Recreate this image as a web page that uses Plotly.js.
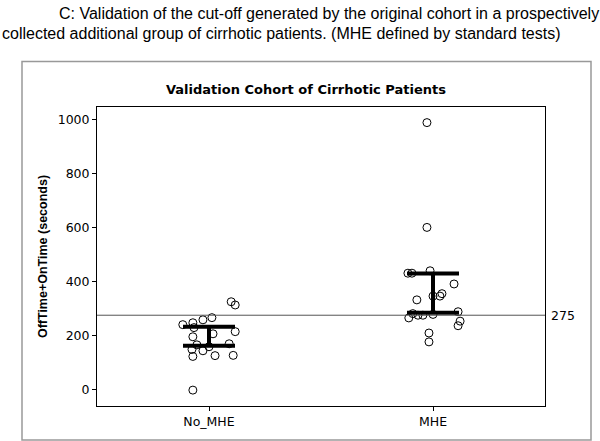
<!DOCTYPE html>
<html>
<head>
<meta charset="utf-8">
<script src="https://cdn.plot.ly/plotly-3.0.1.min.js"></script>
<style>html,body{margin:0;padding:0;background:#fff;}#chart{width:600px;height:441px;}</style>
</head>
<body>
<div id="chart"></div>
<script>
// Categories and tick labels
const categories = ["No_MHE", "MHE"];
const categoryPos = [0, 1];

// No_MHE group: jitter offsets and values (seconds)
const noMheJitter = [0.099, 0.117, -0.117, -0.072, -0.027, 0.013, -0.067, 0.117, -0.072, 0.018, -0.054, 0.090, -0.076, -0.027, 0.000, -0.072, 0.027, 0.108, -0.072];
const noMheValues = [325, 313, 240, 247, 258, 266, 229, 214, 195, 206, 165, 169, 148, 143, 158, 122, 125, 126, -3];

// MHE group: jitter offsets and values (seconds)
const mheJitter = [-0.027, -0.027, -0.112, -0.094, -0.013, 0.094, -0.072, 0.000, 0.040, 0.031, -0.108, -0.090, -0.067, -0.045, 0.000, 0.112, 0.121, 0.112, -0.018, -0.018];
const mheValues = [990, 601, 431, 431, 440, 391, 332, 346, 355, 346, 265, 281, 275, 275, 278, 288, 253, 236, 209, 176];

// Interval bars (lower, upper)
const barLower = [162, 284];
const barUpper = [232, 430];

// Cut-off
const cutoff = 275;

const xNo = noMheJitter.map(j => categoryPos[0] + j);
const xM = mheJitter.map(j => categoryPos[1] + j);
const mids = barLower.map((l, i) => (l + barUpper[i]) / 2);

const pointStyle = {symbol: 'circle-open', size: 8, color: '#000', line: {width: 1, color: '#000'}};

const traces = [
  {x: categoryPos, y: mids, type: 'scatter', mode: 'markers',
   marker: {size: 1, opacity: 0},
   error_y: {type: 'data', symmetric: false,
     array: barUpper.map((u, i) => u - mids[i]),
     arrayminus: barLower.map((l, i) => mids[i] - l),
     color: '#000', thickness: 4, width: 26},
   hoverinfo: 'skip', showlegend: false},
  {x: xNo, y: noMheValues, type: 'scatter', mode: 'markers', marker: pointStyle, showlegend: false},
  {x: xM, y: mheValues, type: 'scatter', mode: 'markers', marker: pointStyle, showlegend: false}
];

const L = 97, R = 545, T = 107, B = 406;
const px = v => (v - L) / (R - L);
const py = v => (B - v) / (B - T);

const layout = {
  width: 600, height: 441,
  margin: {l: L, r: 600 - R, t: T, b: 441 - B, pad: 0},
  paper_bgcolor: '#fff', plot_bgcolor: '#fff',
  showlegend: false,
  font: {family: 'DejaVu Sans, sans-serif', size: 12, color: '#000'},
  xaxis: {
    range: [-0.5, 1.5], tickvals: categoryPos, ticktext: categories,
    showgrid: false, zeroline: false, showline: true, mirror: true,
    linecolor: '#000', linewidth: 1, ticks: 'outside', ticklen: 4, tickcolor: '#000',
    tickfont: {family: 'DejaVu Sans, sans-serif', size: 12.5}
  },
  yaxis: {
    range: [-62, 1048], tickvals: [0, 200, 400, 600, 800, 1000],
    showgrid: false, zeroline: false, showline: true, mirror: true,
    linecolor: '#000', linewidth: 1, ticks: 'outside', ticklen: 4, tickcolor: '#000',
    tickfont: {family: 'DejaVu Sans, sans-serif', size: 12.5},
    title: {text: 'OffTime+OnTime (seconds)', font: {family: 'Liberation Sans, Arial, sans-serif', size: 12.5, weight: 'bold'}, standoff: 7}
  },
  shapes: [
    {type: 'line', xref: 'paper', yref: 'y', x0: 0, x1: 1, y0: cutoff, y1: cutoff, line: {color: '#555', width: 1}},
    {type: 'rect', xref: 'paper', yref: 'paper', x0: px(22), x1: px(591), y0: py(440), y1: py(61.5), line: {color: '#999', width: 1.5}, layer: 'below'}
  ],
  annotations: [
    {text: String(cutoff), xref: 'paper', yref: 'y', x: px(549), y: cutoff, xanchor: 'left', yanchor: 'middle', showarrow: false, font: {family: 'DejaVu Sans, sans-serif', size: 12.5}},
    {text: '<b>Validation Cohort of Cirrhotic Patients</b>', xref: 'paper', yref: 'paper', x: px(306), y: py(89), xanchor: 'center', yanchor: 'middle', showarrow: false, font: {family: 'DejaVu Sans, sans-serif', size: 13}},
    {text: 'C: Validation of the cut-off generated by the original cohort in a prospectively', xref: 'paper', yref: 'paper', x: px(57), y: py(13), xanchor: 'left', yanchor: 'middle', showarrow: false, font: {family: 'Liberation Sans, Arial, sans-serif', size: 16}},
    {text: 'collected additional group of cirrhotic patients. (MHE defined by standard tests)', xref: 'paper', yref: 'paper', x: px(0), y: py(34), xanchor: 'left', yanchor: 'middle', showarrow: false, font: {family: 'Liberation Sans, Arial, sans-serif', size: 16}}
  ]
};

Plotly.newPlot('chart', traces, layout, {displayModeBar: false, staticPlot: true});
</script>
</body>
</html>
